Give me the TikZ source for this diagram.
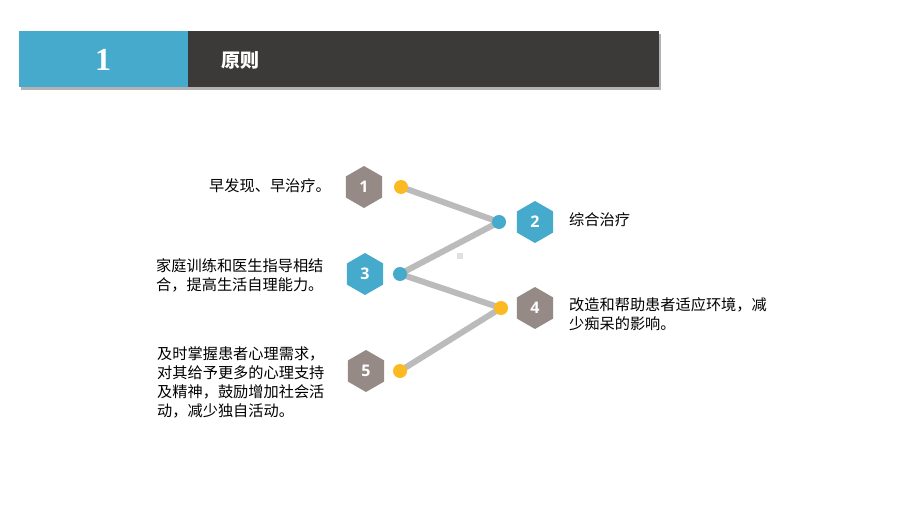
\documentclass[tikz,border=0pt]{standalone}
\usepackage{fontspec}
\setmainfont{Liberation Sans}
\newfontfamily\cjk{Noto Sans CJK SC}
\newfontfamily\numfont{Open Sans}
\usetikzlibrary{shapes.geometric,positioning}
\definecolor{tealblue}{HTML}{45AACB}
\definecolor{taupe}{HTML}{968A86}
\definecolor{darkbar}{HTML}{3C3A38}
\definecolor{amber}{HTML}{FBBA22}
\definecolor{linkgray}{HTML}{BBBBBB}
\tikzset
{
    hexa/.style = {regular polygon, regular polygon sides=6, shape border rotate=30, minimum size=42pt, inner sep=0pt, text=white, font=\numfont\bfseries\fontsize{16}{16}\selectfont},
    dot/.style  = {circle, minimum size=14pt, inner sep=0pt},
    link/.style = {line width=6pt, draw=linkgray},
    note/.style = {font=\cjk\fontsize{15.2}{19}\selectfont, align=left, inner sep=0pt},
    bar/.style  = {draw=none, minimum height=56pt, inner sep=0pt}
}

\begin{document}
\begin{tikzpicture}[x=1pt, y=-1pt]
   \useasboundingbox[fill=white] (0,0) rectangle (920,518);

   % header
   \fill[black!30] (21,34) rectangle (661,90);
   \fill[tealblue] (19,31) rectangle (188,87);
   \fill[darkbar] (188,31) rectangle (659,87);
   \node (num)   [text=white, font=\fontspec{Liberation Serif}\bfseries\fontsize{32}{32}\selectfont] at (103,60) {1};
   \node (title) [text=white, font=\cjk\bfseries\fontsize{19}{19}\selectfont, anchor=west, inner sep=0pt] at (221,60) {原则};

   % zigzag
   \coordinate (p1) at (401,187);
   \coordinate (p2) at (499,222);
   \coordinate (p3) at (400,274);
   \coordinate (p4) at (501,308);
   \coordinate (p5) at (400,371);
   \path[link] (p1) -- (p2) -- (p3) -- (p4) -- (p5);
   \fill[black!12] (457,253) rectangle (463,259);

   \node (d1) [dot, fill=amber]    at (p1) {};
   \node (d2) [dot, fill=tealblue] at (p2) {};
   \node (d3) [dot, fill=tealblue] at (p3) {};
   \node (d4) [dot, fill=amber]    at (p4) {};
   \node (d5) [dot, fill=amber]    at (p5) {};

   \node (h1) [hexa, fill=taupe]    at (364,187) {1};
   \node (h2) [hexa, fill=tealblue] at (535,222) {2};
   \node (h3) [hexa, fill=tealblue] at (365,274) {3};
   \node (h4) [hexa, fill=taupe]    at (535,308) {4};
   \node (h5) [hexa, fill=taupe]    at (366,371) {5};

   % texts
   \node (t1) [note, anchor=east] at (331,186) {早发现、早治疗。};
   \node (t2) [note, anchor=west] at (569,220) {综合治疗};
   \node (t3) [note, anchor=west] at (156,275) {家庭训练和医生指导相结\\合，提高生活自理能力。};
   \node (t4) [note, anchor=west] at (569,314) {改造和帮助患者适应环境，减\\少痴呆的影响。};
   \node (t5) [note, anchor=west] at (157,382) {及时掌握患者心理需求，\\对其给予更多的心理支持\\及精神，鼓励增加社会活\\动，减少独自活动。};
\end{tikzpicture}
\end{document}
